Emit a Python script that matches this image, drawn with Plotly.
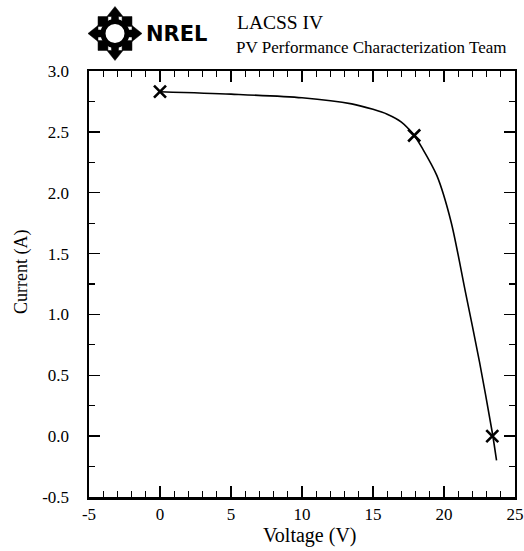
import plotly.graph_objects as go
import math

# ---- data ----
curve_v = [0, 5, 10, 13.5, 15, 16, 17, 17.9, 18.5, 19.5, 20.5, 21.5, 22.5, 23.4, 23.7]
curve_i = [2.83, 2.81, 2.78, 2.73, 2.685, 2.645, 2.58, 2.47, 2.36, 2.14, 1.76, 1.19, 0.61, 0.03, -0.2]
mark_v = [0, 17.9, 23.4]
mark_i = [2.83, 2.47, 0.0]
x_ticks = [-5, 0, 5, 10, 15, 20, 25]
x_ticktext = ["-5", "0", "5", "10", "15", "20", "25"]
y_ticks = [-0.5, 0.0, 0.5, 1.0, 1.5, 2.0, 2.5, 3.0]
y_ticktext = ["-0.5", "0.0", "0.5", "1.0", "1.5", "2.0", "2.5", "3.0"]
y_minor = [-0.25, 0.25, 0.75, 1.25, 1.75, 2.25, 2.75]

W, H = 524, 551
L, R, T, B = 89, 515, 71, 497          # plot area in page pixels
SERIF = "Liberation Serif"

def px(xp):
    return (xp - L) / (R - L)

def py(yp):
    return (B - yp) / (B - T)

fig = go.Figure()
fig.add_trace(go.Scatter(x=curve_v, y=curve_i, mode="lines",
                         line=dict(color="black", width=1.6, shape="spline", smoothing=0.8),
                         showlegend=False, hoverinfo="skip"))
fig.add_trace(go.Scatter(x=mark_v, y=mark_i, mode="markers",
                         marker=dict(symbol="x-thin", size=12, color="black",
                                     line=dict(color="black", width=2.6)),
                         showlegend=False))

def axis_common(lw):
    return dict(showgrid=False, zeroline=False, showline=True, linecolor="black",
                linewidth=lw, ticks="inside", tickcolor="black", automargin=False,
                tickwidth=1.5, ticklen=11, ticklabeloverflow="allow",
                tickfont=dict(family=SERIF, size=17, color="black"))

xminor = dict(ticks="inside", dtick=1, ticklen=6, tickwidth=1.2, tickcolor="black")
yminor = dict(ticks="inside", tickvals=y_minor, ticklen=6, tickwidth=1.2, tickcolor="black")

fig.update_layout(
    xaxis=dict(range=[-5, 25], tickvals=x_ticks, ticktext=x_ticktext, minor=xminor,
               ticklabelstandoff=0, **axis_common(2.5)),
    yaxis=dict(range=[-0.5, 3.0], tickvals=y_ticks, ticktext=y_ticktext, minor=yminor,
               ticklabelstandoff=14, **axis_common(2.5)),
    xaxis2=dict(range=[-5, 25], tickvals=x_ticks, showticklabels=False, minor=xminor,
                overlaying="x", side="top", anchor="y", **axis_common(1.6)),
    yaxis2=dict(range=[-0.5, 3.0], tickvals=y_ticks, showticklabels=False, minor=yminor,
                overlaying="y", side="right", anchor="x", **axis_common(1.6)),
)
fig.add_trace(go.Scatter(x=[None], y=[None], xaxis="x2", yaxis="y2", showlegend=False,
                         hoverinfo="skip"))

def ann(text, x, y, size, family=SERIF, xanchor="center", angle=0):
    return dict(text=text, x=px(x), y=py(y), xref="paper", yref="paper",
                xanchor=xanchor, yanchor="middle", showarrow=False, textangle=angle,
                font=dict(family=family, size=size, color="black"))

annotations = [
    ann("Voltage (V)", 310, 535, 20),
    ann("Current (A)", 21, 272, 18, angle=-90),
    ann("LACSS IV", 235, 23, 19.5, xanchor="left"),
    ann("PV Performance Characterization Team", 234, 47, 17, xanchor="left"),
    ann("<b>NREL</b>", 144, 34, 21, family="DejaVu Sans", xanchor="left"),
]

# ---- logo (decorative) ----
shapes = []
cx, cy, rr = 115, 33.5, 12
shapes.append(dict(type="circle", xref="paper", yref="paper",
                   x0=px(cx - rr), x1=px(cx + rr), y0=py(cy + rr), y1=py(cy - rr),
                   line=dict(color="black", width=5)))
for k in range(8):
    ang = k * math.pi / 4
    ux, uy = math.cos(ang), -math.sin(ang)
    vx, vy = -uy, ux
    if k % 2 == 0:
        pts = [(cx + ux * 27, cy + uy * 27),
               (cx + ux * 17 + vx * 8, cy + uy * 17 + vy * 8),
               (cx + ux * 17 + vx * 3.5, cy + uy * 17 + vy * 3.5),
               (cx + ux * 11 + vx * 3.5, cy + uy * 11 + vy * 3.5),
               (cx + ux * 11 - vx * 3.5, cy + uy * 11 - vy * 3.5),
               (cx + ux * 17 - vx * 3.5, cy + uy * 17 - vy * 3.5),
               (cx + ux * 17 - vx * 8, cy + uy * 17 - vy * 8)]
    else:
        pts = [(cx + ux * 24, cy + uy * 24),
               (cx + ux * 17 + vx * 7, cy + uy * 17 + vy * 7),
               (cx + ux * 10, cy + uy * 10),
               (cx + ux * 17 - vx * 7, cy + uy * 17 - vy * 7)]
    path = "M " + " L ".join(f"{px(a):.5f},{py(b):.5f}" for a, b in pts) + " Z"
    shapes.append(dict(type="path", xref="paper", yref="paper", path=path,
                       fillcolor="black", line=dict(color="black", width=0.5)))

fig.update_layout(width=W, height=H,
                  margin=dict(l=L, r=W - R, t=T, b=H - B),
                  paper_bgcolor="white", plot_bgcolor="white",
                  annotations=annotations, shapes=shapes, showlegend=False)

fig.write_html("out.html",
               config={"displayModeBar": False, "staticPlot": True},
               post_script="document.body.style.margin='0';"
                           "document.body.style.overflow='hidden';"
                           "document.documentElement.style.overflow='hidden';")
